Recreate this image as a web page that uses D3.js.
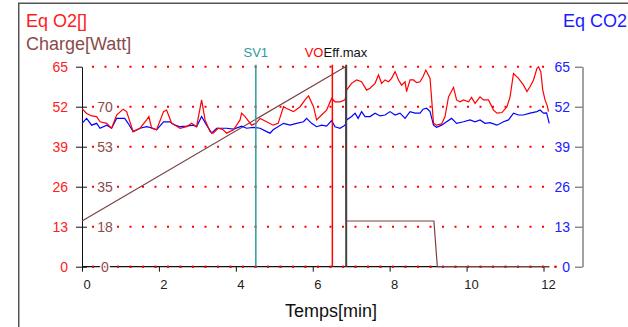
<!DOCTYPE html>
<html>
<head>
<meta charset="UTF-8">
<title>Eq O2 / Eq CO2</title>
<script src="https://cdnjs.cloudflare.com/ajax/libs/d3/7.8.5/d3.min.js"></script>
<style>
  body { margin: 0; background: #fff; }
  svg { display: block; font-family: "Liberation Sans", Arial, sans-serif; }
</style>
</head>
<body>
<svg id="chart" width="628" height="327"></svg>
<script>
// ---- data ----
const eqTicks = [0, 13, 26, 39, 52, 65];
const chargeTicks = [0, 17.5, 35, 52.5, 70];
const timeTicks = [0, 2, 4, 6, 8, 10, 12];

// [minutes, value]
const eqO2 = [
  [0.00,51.4],[0.12,49.8],[0.25,49.0],[0.38,48.8],[0.47,47.1],[0.64,46.6],[0.77,45.0],[0.90,49.3],
  [1.07,51.2],[1.16,50.4],[1.33,43.9],[1.51,45.0],[1.68,47.7],[1.74,48.8],[1.81,45.0],[1.94,44.5],
  [2.12,50.4],[2.20,50.9],[2.33,46.6],[2.42,46.0],[2.55,45.0],[2.72,45.5],[2.85,46.6],[2.98,45.5],
  [3.11,54.2],[3.20,47.7],[3.33,43.9],[3.41,43.4],[3.54,45.0],[3.67,44.5],[3.76,43.4],[3.94,44.5],
  [4.11,47.7],[4.15,49.9],[4.24,48.8],[4.41,46.0],[4.52,46.6],[4.63,48.2],[4.80,47.1],[4.97,46.0],
  [5.10,46.6],[5.24,52.0],[5.32,51.4],[5.50,50.4],[5.67,52.0],[5.80,54.2],[5.89,55.5],[6.02,52.0],
  [6.10,47.7],[6.23,49.3],[6.36,50.9],[6.49,54.7],[6.58,53.6],[6.71,53.6],[6.84,54.2],[6.88,57.4],
  [7.01,59.6],[7.14,60.7],[7.27,60.1],[7.40,57.4],[7.49,58.0],[7.62,59.6],[7.71,62.3],[7.79,59.6],
  [7.88,60.7],[7.97,60.1],[8.05,61.2],[8.14,63.4],[8.23,60.7],[8.31,59.0],[8.40,60.1],[8.44,56.9],
  [8.53,60.7],[8.62,60.7],[8.70,59.8],[8.79,60.1],[8.87,61.8],[8.94,63.9],[9.05,61.2],[9.14,46.6],
  [9.22,46.0],[9.35,46.4],[9.44,48.8],[9.53,55.2],[9.66,58.3],[9.74,54.2],[9.83,53.6],[9.92,54.2],
  [10.05,53.6],[10.13,55.0],[10.22,53.1],[10.35,55.2],[10.44,54.2],[10.57,54.2],[10.70,50.9],[10.79,49.9],
  [10.92,50.1],[11.05,52.0],[11.13,55.2],[11.22,62.8],[11.35,61.2],[11.48,59.0],[11.57,56.9],[11.65,58.5],
  [11.74,60.7],[11.83,64.5],[11.87,65.0],[11.93,63.4],[11.98,57.5],[12.04,54.2],[12.10,52.2],[12.13,50.4]
];

const eqCO2 = [
  [0.00,46.6],[0.12,48.2],[0.25,46.0],[0.38,46.6],[0.47,45.0],[0.64,46.0],[0.77,45.0],[0.90,48.2],
  [1.11,48.2],[1.20,46.6],[1.33,43.9],[1.51,45.0],[1.68,45.5],[1.85,45.0],[1.94,44.5],[2.12,47.1],
  [2.29,47.1],[2.42,46.0],[2.55,45.5],[2.72,45.7],[2.89,46.0],[2.98,45.5],[3.11,48.8],[3.24,46.0],
  [3.37,43.4],[3.50,45.0],[3.76,45.0],[3.94,44.7],[4.15,45.7],[4.28,45.0],[4.46,45.3],[4.63,45.0],
  [4.80,43.9],[4.89,43.4],[4.97,44.5],[5.24,46.6],[5.41,46.0],[5.58,46.6],[5.76,47.1],[5.84,48.2],
  [5.97,46.6],[6.10,45.5],[6.23,46.0],[6.36,45.7],[6.49,47.5],[6.58,45.5],[6.71,45.0],[6.84,46.0],
  [6.88,47.7],[7.01,48.8],[7.10,49.9],[7.18,48.2],[7.27,50.4],[7.36,48.8],[7.49,48.8],[7.62,49.9],
  [7.75,49.0],[7.88,49.3],[8.01,50.4],[8.14,49.3],[8.27,49.9],[8.40,48.2],[8.53,50.4],[8.66,49.9],
  [8.79,49.9],[8.87,51.2],[8.96,51.5],[9.05,50.4],[9.14,46.0],[9.22,45.3],[9.35,46.0],[9.48,47.1],
  [9.61,48.2],[9.74,46.6],[9.92,47.1],[10.09,47.7],[10.22,47.1],[10.35,47.7],[10.48,46.6],[10.61,46.8],
  [10.79,46.0],[10.96,47.1],[11.09,47.7],[11.22,49.9],[11.35,49.3],[11.48,49.3],[11.65,49.9],[11.83,50.4],
  [11.91,50.9],[12.00,49.9],[12.08,50.0],[12.15,46.6]
];

// [minutes, watt]
const charge = [[0, 20], [6.85, 87.5], [6.87, 20], [9.15, 20], [9.24, 0], [12.15, 0]];

// event markers
const markers = [
  { t: 4.52, label: "SV1", color: "#2e9c9a" },
  { t: 6.51, label: "VO", color: "#ff0000" },
  { t: 6.87, label: "Eff.max", color: "#444" }
];

// ---- layout ----
const svg = d3.select("#chart");
const plotLeft = 82, plotTop = 66.7, plotBottom = 266.7, rightAxisX = 582.5;

const x = d3.scaleLinear().domain([0, 12]).range([plotLeft, 543.5]);
const y = d3.scaleLinear().domain([0, 65]).range([plotBottom, plotTop]);
const yCharge = d3.scaleLinear().domain([0, 87.5]).range([plotBottom, plotTop]);

// frame
svg.append("rect")
  .attr("x", 18.75).attr("y", 3.25)
  .attr("width", 700).attr("height", 400)
  .attr("fill", "none").attr("stroke", "#555").attr("stroke-width", 1.5);

// titles
svg.append("text").attr("x", 26).attr("y", 26.5)
  .attr("font-size", 18).attr("fill", "#ff1a1a").text("Eq O2[]");
svg.append("text").attr("x", 26).attr("y", 50)
  .attr("font-size", 18).attr("fill", "#8a4b4b").text("Charge[Watt]");
svg.append("text").attr("x", 627).attr("y", 26.5)
  .attr("text-anchor", "end")
  .attr("font-size", 18).attr("fill", "#1a1aff").text("Eq CO2");

// dotted grid
svg.append("g").selectAll("line")
  .data(eqTicks)
  .join("line")
  .attr("x1", plotLeft + 10).attr("x2", 572)
  .attr("y1", d => y(d)).attr("y2", d => y(d))
  .attr("stroke", "#ff0000").attr("stroke-width", 2)
  .attr("stroke-dasharray", "2,10.5");

// x axis
const xAxis = svg.append("g")
  .attr("transform", `translate(0,${plotBottom})`)
  .call(d3.axisBottom(x).tickValues(timeTicks).tickSize(5).tickSizeOuter(0).tickPadding(8));
xAxis.select(".domain").remove();
xAxis.selectAll("text").attr("font-size", 13).attr("fill", "#222").attr("dx", 4.5);
xAxis.selectAll("line").attr("stroke", "#111");
svg.append("line")
  .attr("x1", x(0)).attr("x2", x(12.15))
  .attr("y1", plotBottom).attr("y2", plotBottom)
  .attr("stroke", "#111").attr("stroke-width", 1.3);
// red dots of the zero grid line lie on top of the axis
svg.append("line")
  .attr("x1", plotLeft + 10).attr("x2", 572)
  .attr("y1", y(0)).attr("y2", y(0))
  .attr("stroke", "#ff0000").attr("stroke-width", 2)
  .attr("stroke-dasharray", "2,10.5");

svg.append("text").attr("x", 331).attr("y", 317)
  .attr("text-anchor", "middle").attr("font-size", 18).attr("fill", "#111")
  .text("Temps[min]");

// left axis (Eq O2)
const yAxisL = svg.append("g")
  .attr("transform", `translate(${plotLeft},0)`)
  .call(d3.axisLeft(y).tickValues(eqTicks).tickSize(6).tickSizeOuter(0).tickPadding(8));
yAxisL.selectAll("text").attr("font-size", 14).attr("fill", "#ff2020");
yAxisL.selectAll("line").attr("stroke", "#111");
yAxisL.select(".domain").attr("stroke", "#111");

// right axis (Eq CO2)
const yAxisR = svg.append("g")
  .attr("transform", `translate(${rightAxisX},0)`)
  .call(d3.axisLeft(y).tickValues(eqTicks).tickSize(7.5).tickSizeOuter(0).tickPadding(5));
yAxisR.selectAll("text").attr("font-size", 14).attr("fill", "#2020ff")
  .attr("stroke", "#fff").attr("stroke-width", 5).attr("paint-order", "stroke");
yAxisR.selectAll("line").attr("stroke", "#555");
yAxisR.select(".domain").attr("stroke", "#444");

// charge axis labels, inside the plot
const yAxisC = svg.append("g")
  .attr("transform", `translate(${plotLeft},0)`)
  .call(d3.axisRight(yCharge).tickValues(chargeTicks).tickSize(5).tickSizeOuter(0)
    .tickFormat(d3.format(".0f")));
yAxisC.select(".domain").remove();
yAxisC.selectAll("line").attr("stroke", "#111");
yAxisC.selectAll("text")
  .attr("x", 23).attr("text-anchor", "middle")
  .attr("font-size", 14).attr("fill", "#8a4b4b")
  .attr("stroke", "#fff").attr("stroke-width", 3).attr("paint-order", "stroke");

// lines
const line = d3.line().x(d => x(d[0])).y(d => y(d[1]));
const chargeLine = d3.line().x(d => x(d[0])).y(d => yCharge(d[1]));

svg.append("path").datum(charge)
  .attr("d", chargeLine).attr("fill", "none")
  .attr("stroke", "#7a4040").attr("stroke-width", 1.2);

svg.append("path").datum(eqCO2)
  .attr("d", line).attr("fill", "none")
  .attr("stroke", "#0000ff").attr("stroke-width", 1.2);

svg.append("path").datum(eqO2)
  .attr("d", line).attr("fill", "none")
  .attr("stroke", "#ff0000").attr("stroke-width", 1.2);

// markers
markers.forEach(m => {
  svg.append("line")
    .attr("x1", x(m.t)).attr("x2", x(m.t))
    .attr("y1", plotTop - 2).attr("y2", plotBottom)
    .attr("stroke", m.color).attr("stroke-width", m.label === "Eff.max" ? 2 : 1.5);
});
svg.append("text").attr("x", x(markers[0].t)).attr("y", 57)
  .attr("text-anchor", "middle").attr("font-size", 13).attr("fill", markers[0].color)
  .text(markers[0].label);
svg.append("text").attr("x", 323.5).attr("y", 57)
  .attr("text-anchor", "end").attr("font-size", 13).attr("fill", markers[1].color)
  .text(markers[1].label);
svg.append("text").attr("x", 323.5).attr("y", 57)
  .attr("text-anchor", "start").attr("font-size", 13).attr("fill", "#111")
  .text(markers[2].label);
</script>
</body>
</html>
